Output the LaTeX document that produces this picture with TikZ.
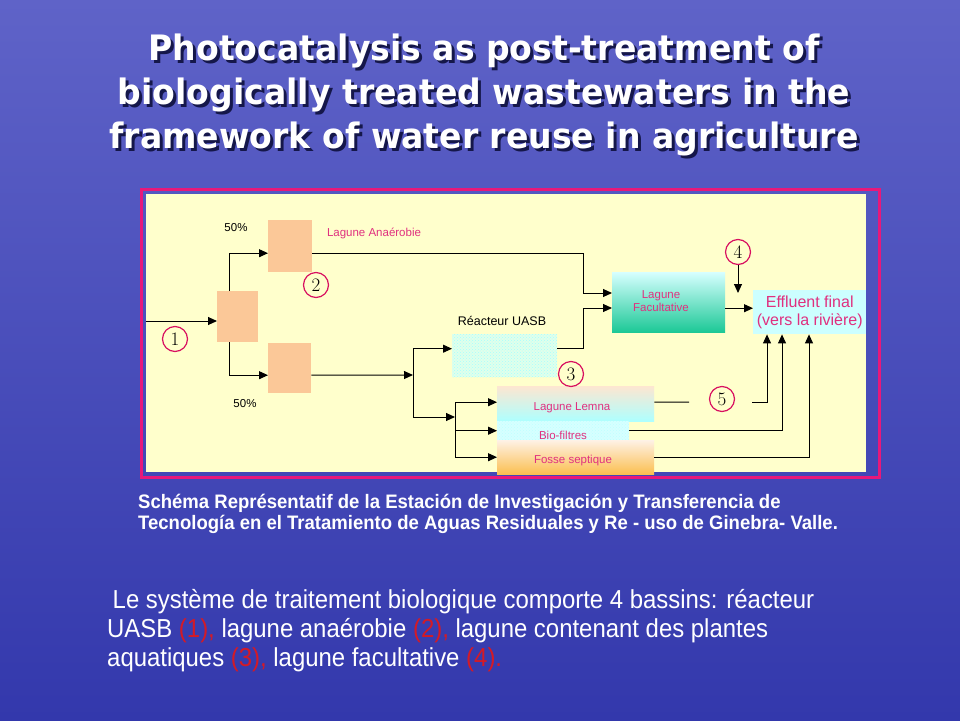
\documentclass[tikz,border=0pt]{standalone}
\usepackage{fontspec}
\usepackage{graphicx}
\setmainfont{Liberation Sans}
\newfontfamily\titlefont{DejaVu Sans}
\newfontfamily\numfont{Latin Modern Roman}
\usetikzlibrary{arrows.meta,positioning,patterns}
\definecolor{skytop}{HTML}{5F63C8}
\definecolor{skymid}{HTML}{3A3EB2}
\definecolor{skybottom}{HTML}{3338AC}
\definecolor{titleshade}{HTML}{15174A}
\definecolor{panelyellow}{HTML}{FFFFCC}
\definecolor{framepink}{HTML}{E8187A}
\definecolor{peach}{HTML}{FBC898}
\definecolor{labelpink}{HTML}{E0307F}
\definecolor{ringred}{HTML}{D81060}
\definecolor{aqua}{HTML}{CCFFFF}
\definecolor{lagoongreen}{HTML}{1CC896}
\definecolor{septicorange}{HTML}{FBBF50}
\definecolor{numred}{HTML}{D41A26}
\begin{document}
\begin{tikzpicture}[x=1pt,y=-1pt,
  basin/.style={fill=peach,inner sep=0pt,anchor=north west},
  tank/.style={inner sep=0pt,anchor=north west},
  flow/.style={-{Triangle[length=9pt,width=8pt]},line width=1pt},
  pipe/.style={line width=1pt},
  tag/.style={circle,draw=ringred,fill=panelyellow,line width=1.2pt,minimum size=25pt,inner sep=0pt,font=\numfont\fontsize{19}{19}\selectfont},
  lbl/.style={inner sep=0pt,text=labelpink,font=\fontsize{11.5}{13}\selectfont},
  note/.style={inner sep=0pt,font=\fontsize{11.5}{13}\selectfont},
  headline/.style={align=center,inner sep=0pt,font=\titlefont\bfseries\fontsize{35}{44}\selectfont}]
\shade[top color=skytop,middle color=skymid,bottom color=skybottom] (0,0) rectangle (960,720);
\useasboundingbox (0,0) rectangle (960,720);

% title
\node[headline,text=titleshade] (titleshadow) at (487,98) {\scalebox{0.945}[1]{\parbox{900pt}{\centering Photocatalysis as post-treatment of\\biologically treated wastewaters in the\\framework of water reuse in agriculture}}};
\node[headline,text=white] (title) at (484,95) {\scalebox{0.945}[1]{\parbox{900pt}{\centering Photocatalysis as post-treatment of\\biologically treated wastewaters in the\\framework of water reuse in agriculture}}};

% panel
\node[tank,fill=panelyellow,minimum width=720pt,minimum height=278pt] (panel) at (146,194) {};
\draw[framepink,line width=3pt] (141.5,189.5) rectangle (879,477.5);

% basins
\node[basin,minimum width=41pt,minimum height=51pt] (split) at (217,291) {};
\node[basin,minimum width=44pt,minimum height=52pt] (anaer) at (268,220) {};
\node[basin,minimum width=43pt,minimum height=50pt] (lower) at (268,343) {};
\node[tank,fill=aqua!60!panelyellow,minimum width=105pt,minimum height=43pt,postaction={pattern=crosshatch dots,pattern color=cyan!35}] (uasb) at (452,334) {};
\node[tank,top color=aqua!80!white,bottom color=lagoongreen,minimum width=113pt,minimum height=60pt] (fac) at (612,272) {};
\node[tank,fill=aqua,minimum width=113pt,minimum height=44pt,align=center,text=labelpink,font=\fontsize{16}{18}\selectfont] (eff) at (753,290) {Effluent final\\(vers la rivière)};
\node[tank,top color=peach!45!white,bottom color=aqua!85!cyan,minimum width=157pt,minimum height=35pt] (lemna) at (497,386) {};
\node[tank,fill=aqua!80!white,minimum width=132pt,minimum height=19pt,postaction={pattern=crosshatch dots,pattern color=cyan!25}] (biof) at (497,421) {};
\node[tank,top color=peach!25!white,bottom color=septicorange,minimum width=157pt,minimum height=34pt] (fosse) at (497,440) {};

% labels
\node[note] (pcttop) at (236,228) {50\%};
\node[note] (pctlow) at (245,404) {50\%};
\node[lbl] (anaertext) at (374,233) {Lagune Anaérobie};
\node[note,font=\fontsize{12.5}{14}\selectfont] (uasbtext) at (502,321) {Réacteur UASB};
\node[lbl,align=center] (factext) at (661,301) {Lagune\\Facultative};
\node[lbl] (lemnatext) at (572,408) {Lagune Lemna};
\node[lbl] (bioftext) at (563,435) {Bio-filtres};
\node[lbl] (fossetext) at (573,461) {Fosse septique};

% numbered tags
\node[tag] (t1) at (175,339) {1};
\node[tag] (t2) at (316,285) {2};
\node[tag] (t3) at (571,374) {3};
\node[tag] (t4) at (738,252) {4};
\node[tag] (t5) at (722,399) {5};

% flows
\coordinate (inlet) at (146,321);
\draw[flow] (inlet) -- (inlet -| split.west);
\draw[flow] ([xshift=12pt]split.north west) |- ([yshift=-7pt]anaer.west);
\draw[flow] ([xshift=12pt]split.south west) |- ([yshift=-7pt]lower.west);
\coordinate (jA) at (413,375);
\coordinate (jB) at (455,417);
\draw[flow] ([yshift=-7pt]lower.east) -- (jA);
\draw[flow] (jA) |- ([yshift=7pt]uasb.west);
\draw[flow] (jA) |- (jB);
\draw[flow] (jB) |- ([yshift=1.5pt]lemna.west);
\draw[flow] (jB) |- (biof.west);
\draw[flow] (jB) |- (fosse.west);
\coordinate (elbowtop) at (583,293);
\coordinate (elbowmid) at (583,308);
\draw[flow] ([yshift=-7pt]anaer.east) -| (elbowtop) -- (elbowtop -| fac.west);
\draw[flow] ([yshift=7pt]uasb.east) -| (elbowmid) -- (elbowmid -| fac.west);
\draw[flow] ([yshift=-6pt]fac.east) -- ([yshift=-6pt]fac.east -| eff.west);
\coordinate (drop4) at (738,293);
\draw[flow] (t4.south) -- (drop4);
\coordinate (gap5l) at (689,402);
\coordinate (gap5r) at (752,402);
\draw[pipe] ([yshift=1.5pt]lemna.east) -- (gap5l);
\draw[flow] (gap5r) -| ([xshift=14pt]eff.south west);
\draw[flow] (biof.east) -| ([xshift=29pt]eff.south west);
\draw[flow] (fosse.east) -| ([xshift=56pt]eff.south west);

% caption
\node[anchor=north west,inner sep=0pt,text=white,align=left,font=\bfseries\fontsize{19.5}{21}\selectfont] (caption) at (138,494) {\scalebox{0.95}[1]{\parbox{900pt}{Schéma Représentatif de la Estación de Investigación y Transferencia de\\Tecnología en el Tratamiento de Aguas Residuales y Re - uso de Ginebra- Valle.}}};
\node[anchor=north west,inner sep=0pt,text=white,align=left,font=\fontsize{26}{29}\selectfont] (summary) at (107,589) {\scalebox{0.92}[1]{\parbox{1000pt}{\hspace*{6pt}Le système de traitement biologique comporte 4 bassins: réacteur\\UASB \textcolor{numred}{(1),} lagune anaérobie \textcolor{numred}{(2),} lagune contenant des plantes\\aquatiques \textcolor{numred}{(3),} lagune facultative \textcolor{numred}{(4).}}}};
\end{tikzpicture}
\end{document}
